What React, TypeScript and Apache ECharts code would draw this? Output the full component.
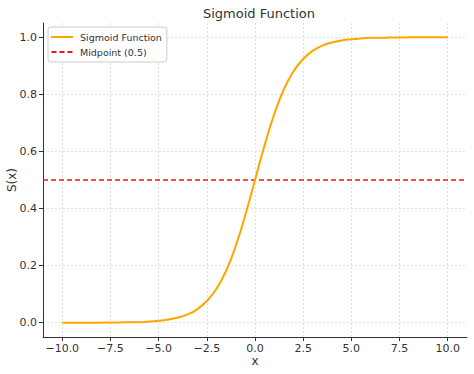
import React, { useEffect, useRef } from "react";
import * as echarts from "echarts";

const xValues = [
  -10, -9.5, -9, -8.5, -8, -7.5, -7, -6.5, -6, -5.5, -5, -4.5, -4, -3.5, -3, -2.5, -2, -1.5, -1, -0.5,
  0, 0.5, 1, 1.5, 2, 2.5, 3, 3.5, 4, 4.5, 5, 5.5, 6, 6.5, 7, 7.5, 8, 8.5, 9, 9.5, 10,
];
const sigmoidValues = [
  0.0, 0.0, 0.0, 0.0, 0.0, 0.001, 0.001, 0.002, 0.002, 0.004, 0.007, 0.011, 0.018, 0.029, 0.047, 0.076,
  0.119, 0.182, 0.269, 0.378, 0.5, 0.622, 0.731, 0.818, 0.881, 0.924, 0.953, 0.971, 0.982, 0.989, 0.993,
  0.996, 0.998, 0.998, 0.999, 0.999, 1.0, 1.0, 1.0, 1.0, 1.0,
];
const midpointX = [-11, 11];
const midpointValue = 0.5;
const xTicks = [-10, -7.5, -5, -2.5, 0, 2.5, 5, 7.5, 10];
const yTicks = [0, 0.2, 0.4, 0.6, 0.8, 1.0];

const FONT = "DejaVu Sans";
const ORANGE = "#FFA500";
const RED = "#e41a1c";

export default function App() {
  const ref = useRef<HTMLDivElement>(null);
  useEffect(() => {
    if (!ref.current) return;
    const chart = echarts.init(ref.current, null, { renderer: "svg" });
    chart.setOption({
      animation: false,
      textStyle: { fontFamily: FONT },
      title: {
        text: "Sigmoid Function",
        left: 198,
        top: 2,
        textStyle: { fontFamily: FONT, fontSize: 13, fontWeight: "normal", color: "#333" },
      },
      legend: {
        orient: "vertical",
        left: 48,
        top: 27,
        padding: [5, 5, 5, 3],
        itemGap: 5,
        itemWidth: 22,
        itemHeight: 2,
        borderColor: "#ccc",
        borderWidth: 1,
        borderRadius: 3,
        backgroundColor: "#fff",
        textStyle: { fontFamily: FONT, fontSize: 9.5, color: "#333", padding: [0, 0, 0, 2], lineHeight: 10 },
        data: [
          { name: "Sigmoid Function", icon: "path://M0,0h22v2h-22z" },
          {
            name: "Midpoint (0.5)",
            icon: "path://M0,0h5v2h-5z M8,0h5v2h-5z M16,0h5v2h-5z",
          },
        ],
      },
      grid: {
        left: 43,
        right: 7,
        top: 23,
        bottom: 37,
        containLabel: false,
        outerBoundsMode: "none",
      },
      xAxis: {
        type: "value",
        min: -11,
        max: 11,
        name: "x",
        nameLocation: "middle",
        nameGap: 18,
        nameMoveOverlap: false,
        nameTextStyle: { fontFamily: FONT, fontSize: 12, color: "#333", verticalAlign: "top" },
        axisLine: { show: true, onZero: false, lineStyle: { color: "#333", width: 1 } },
        axisTick: { show: true, inside: false, length: 4, customValues: xTicks, lineStyle: { color: "#333" } },
        axisLabel: {
          customValues: xTicks,
          formatter: (v: number) => v.toFixed(1).replace("-", "\u2212"),
          fontFamily: FONT,
          fontSize: 11,
          color: "#333",
          margin: 6,
        },
        splitLine: { show: true, lineStyle: { color: "#d8d8d8", type: [2, 2], width: 0.8 } },
      },
      yAxis: {
        type: "value",
        min: -0.05,
        max: 1.05,
        name: "S(x)",
        nameLocation: "middle",
        nameGap: 25,
        nameMoveOverlap: false,
        nameRotate: 90,
        nameTextStyle: { fontFamily: FONT, fontSize: 12, color: "#333" },
        axisLine: { show: true, onZero: false, lineStyle: { color: "#333", width: 1 } },
        axisTick: { show: true, inside: false, length: 4, customValues: yTicks, lineStyle: { color: "#333" } },
        axisLabel: {
          customValues: yTicks,
          formatter: (v: number) => v.toFixed(1),
          fontFamily: FONT,
          fontSize: 11,
          color: "#333",
          margin: 6,
        },
        splitLine: { show: true, lineStyle: { color: "#d8d8d8", type: [2, 2], width: 0.8 } },
      },
      series: [
        {
          name: "Sigmoid Function",
          type: "line",
          data: xValues.map((x, i) => [x, sigmoidValues[i]]),
          smooth: true,
          showSymbol: false,
          symbol: "none",
          lineStyle: { color: ORANGE, width: 2 },
          itemStyle: { color: ORANGE },
          z: 3,
        },
        {
          name: "Midpoint (0.5)",
          type: "line",
          data: midpointX.map((x) => [x, midpointValue]),
          showSymbol: false,
          symbol: "none",
          lineStyle: { color: RED, width: 1.6, type: [5, 3] },
          itemStyle: { color: RED },
          z: 2,
        },
      ],
    });
    return () => chart.dispose();
  }, []);
  return (
    <div
      ref={ref}
      style={{ position: "absolute", left: 0, top: 0, width: 474, height: 374 }}
    />
  );
}
